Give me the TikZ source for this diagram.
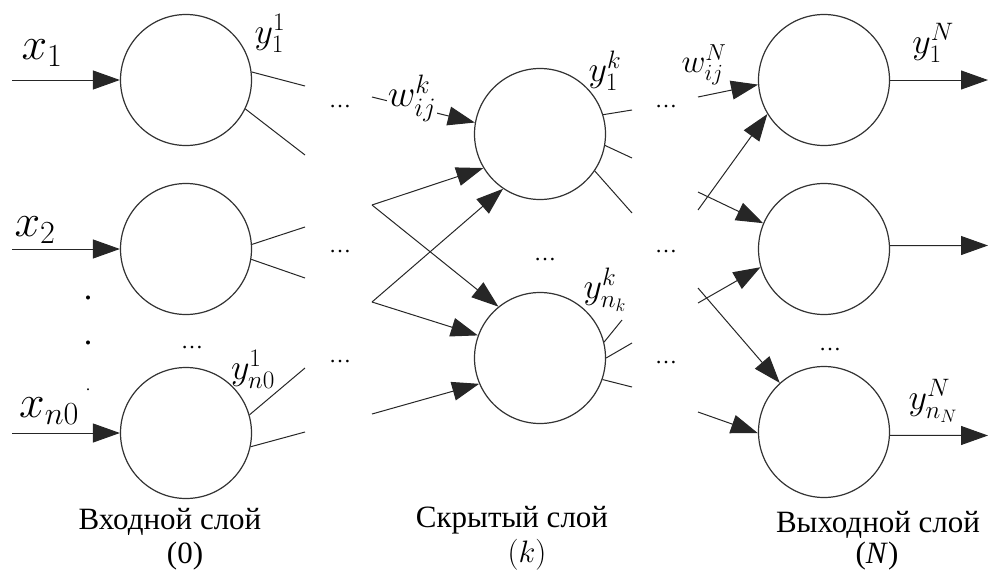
\RequirePackage{fix-cm}
\documentclass[tikz,border=0pt]{standalone}
\usepackage{fontspec}
\setmainfont{Liberation Serif}
\usetikzlibrary{arrows.meta}
\begin{document}
\begin{tikzpicture}[x=1pt,y=-1pt,
  neuron/.style={circle,draw=black!80,line width=1.2pt,minimum size=131pt,inner sep=0pt},
  conn/.style={line width=1pt,draw=black!85},
  arr/.style={conn,-{Triangle[length=27pt,width=19pt]}},
  xlab/.style={font=\fontsize{46}{52}\selectfont,inner sep=0pt},
  ylab/.style={font=\fontsize{36}{40}\selectfont,inner sep=0pt},
  wlab/.style={font=\fontsize{38}{42}\selectfont,inner sep=1pt,fill=white},
  dotsl/.style={font=\fontsize{22}{24}\selectfont,inner sep=0pt},
  vdot/.style={font=\fontsize{34}{36}\selectfont,inner sep=0pt},
  laylab/.style={font=\fontsize{31}{36}\selectfont,inner sep=0pt}
]
\useasboundingbox (0,0) rectangle (990,579);

% neurons
\node[neuron] (i1) at (186,80) {};
\node[neuron] (i2) at (186,249) {};
\node[neuron] (i3) at (186,433) {};
\node[neuron] (h1) at (540,134) {};
\node[neuron] (h2) at (540,358) {};
\node[neuron] (o1) at (824,80) {};
\node[neuron] (o2) at (824,249) {};
\node[neuron] (o3) at (824,432) {};

% inputs
\coordinate (in1) at (12,80);
\coordinate (in2) at (12,249);
\coordinate (in3) at (12,433);
\draw[arr] (in1) -- (i1.west);
\draw[arr] (in2) -- (i2.west);
\draw[arr] (in3) -- (i3.west);

% input layer stubs
\coordinate (s1a) at (305,86);
\coordinate (s1b) at (305,155);
\coordinate (s2a) at (305,227);
\coordinate (s2b) at (305,278);
\coordinate (s3a) at (305,368);
\coordinate (s3b) at (305,432);
\draw[conn] (i1.7) -- (s1a);
\draw[conn] (i1.-26) -- (s1b);
\draw[conn] (i2.4) -- (s2a);
\draw[conn] (i2.-9) -- (s2b);
\draw[conn] (i3.16) -- (s3a);
\draw[conn] (i3.-12) -- (s3b);

% hidden layer inputs
\coordinate (w1) at (372,97);
\coordinate (c1) at (372,205);
\coordinate (c2) at (372,302);
\coordinate (c3) at (372,414);
\draw[arr] (w1) -- (h1.170);
\draw[arr] (c1) -- (h1.211);
\draw[arr] (c2) -- (h1.236);
\draw[arr] (c1) -- (h2.129);
\draw[arr] (c2) -- (h2.160);
\draw[arr] (c3) -- (h2.203);

% hidden layer stubs
\coordinate (t1a) at (632,110);
\coordinate (t1b) at (632,158);
\coordinate (t1c) at (632,213);
\coordinate (t2a) at (622,320);
\coordinate (t2b) at (632,343);
\coordinate (t2c) at (632,387);
\draw[conn] (h1.17) -- (t1a);
\draw[conn] (h1.-10) -- (t1b);
\draw[conn] (h1.-34) -- (t1c);
\draw[conn] (h2.14) -- (t2a);
\draw[conn] (h2.0) -- (t2b);
\draw[conn] (h2.-19) -- (t2c);

% output layer inputs
\coordinate (d0) at (698,97);
\coordinate (d1) at (698,210);
\coordinate (d2) at (698,192);
\coordinate (d3) at (698,303);
\coordinate (d4) at (698,288);
\coordinate (d5) at (698,412);
\draw[arr] (d0) -- (o1.184);
\draw[arr] (d1) -- (o1.211);
\draw[arr] (d2) -- (o2.157);
\draw[arr] (d3) -- (o2.196);
\draw[arr] (d4) -- (o3.132);
\draw[arr] (d5) -- (o3.181);

% outputs
\coordinate (out1) at (988,80);
\coordinate (out2) at (988,245.5);
\coordinate (out3) at (988,435.5);
\draw[arr] (o1.east) -- (out1);
\draw[arr] (o2.3) -- (out2);
\draw[arr] (o3.-3) -- (out3);

% labels
\node[xlab] (lx1) at (42,53) {$x_1$};
\node[xlab] (lx2) at (35,230) {$x_2$};
\node[xlab] (lxn) at (49,411) {$x_{n0}$};
\node[ylab] (ly11) at (270,33) {$y_1^1$};
\node[ylab] (ly1n) at (253,369) {$y_{n0}^1$};
\node[wlab] (lwk) at (412,98) {$w_{ij}^k$};
\node[ylab] (lyk1) at (605,71) {$y_1^k$};
\node[ylab] (lykn) at (605,290) {$y_{n_k}^k$};
\node[wlab,font=\fontsize{33}{37}\selectfont] (lwN) at (704,65) {$w_{ij}^N$};
\node[ylab] (lyN1) at (933,43) {$y_1^N$};
\node[ylab] (lyNn) at (933,401) {$y_{n_N}^N$};

% dots
\node[vdot] (v1) at (88,298) {.};
\node[vdot] (v2) at (88,343) {.};
\node[vdot,font=\fontsize{16}{18}\selectfont] (v3) at (88,390) {.};
\node[dotsl] (e0) at (192,348) {\ldots};
\node[dotsl] (e1) at (340,107) {\ldots};
\node[dotsl] (e2) at (340,252) {\ldots};
\node[dotsl] (e3) at (340,362) {\ldots};
\node[dotsl] (e4) at (545,260) {\ldots};
\node[dotsl] (e5) at (666,107) {\ldots};
\node[dotsl] (e6) at (666,252) {\ldots};
\node[dotsl] (e7) at (666,363) {\ldots};
\node[dotsl] (e8) at (830,350) {\ldots};

% layer captions
\node[laylab] (L0) at (170,522) {Входной слой};
\node[laylab] (L0n) at (185,556) {(0)};
\node[laylab] (Lk) at (512,520) {Скрытый слой};
\node[laylab] (Lkn) at (527,555) {$(k)$};
\node[laylab] (LN) at (878,525) {Выходной слой};
\node[laylab] (LNn) at (877,556) {(\textit{N})};
\end{tikzpicture}
\end{document}
